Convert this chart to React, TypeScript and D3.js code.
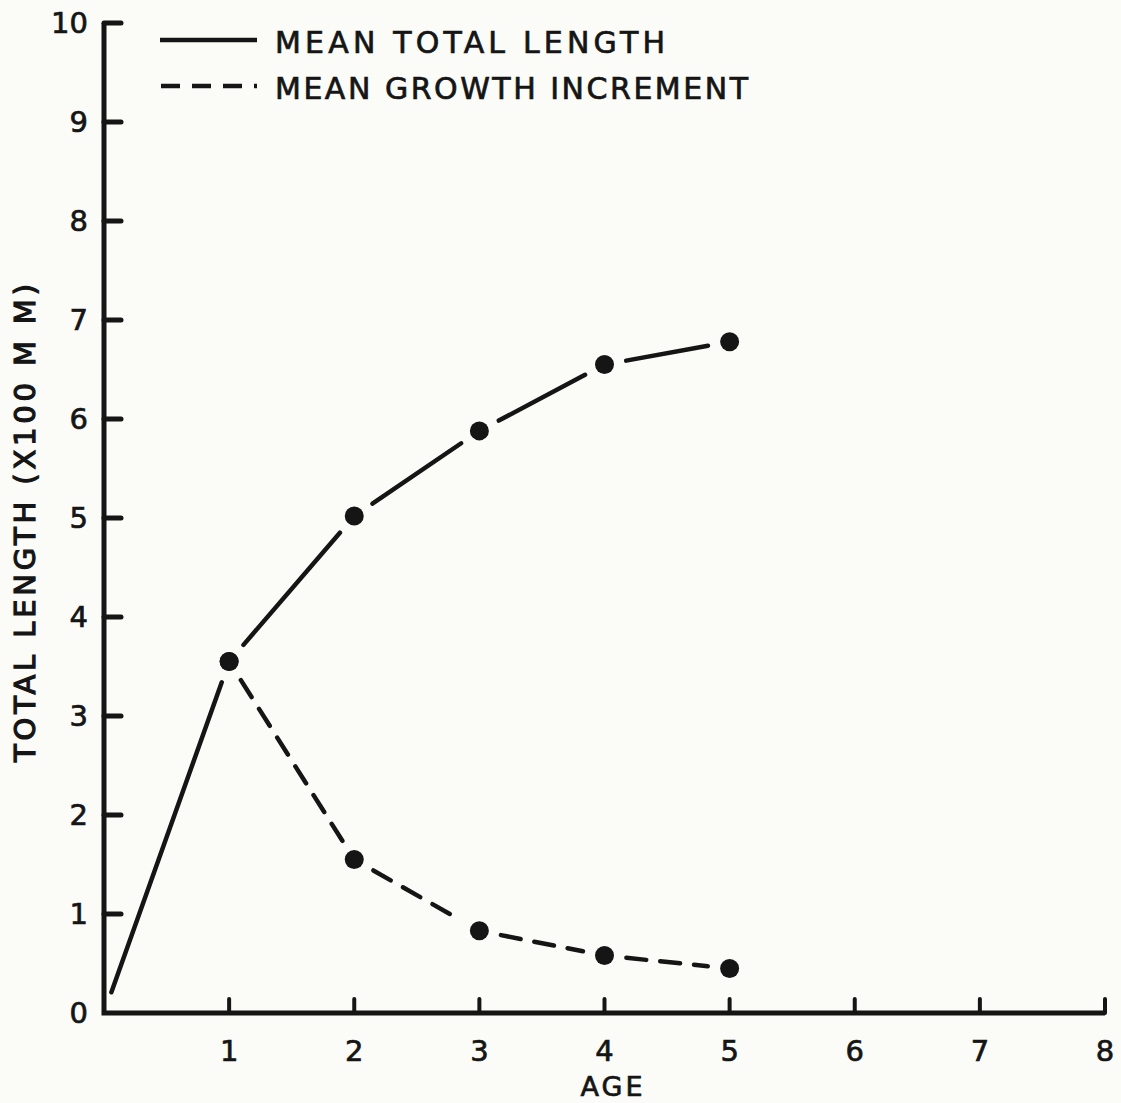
import * as d3 from "d3";
import { useRef, useEffect } from "react";

const ages = [0, 1, 2, 3, 4, 5];
const meanTotalLength = [0, 3.55, 5.02, 5.88, 6.55, 6.78];
const incrementAges = [1, 2, 3, 4, 5];
const meanGrowthIncrement = [3.55, 1.55, 0.83, 0.58, 0.45];
const xTicks = [1, 2, 3, 4, 5, 6, 7, 8];
const yTicks = [0, 1, 2, 3, 4, 5, 6, 7, 8, 9, 10];

const INK = "#151515";
const FONT = "'DejaVu Sans', sans-serif";

function App() {
  const svgRef = useRef<SVGSVGElement>(null);

  useEffect(() => {
    const WIDTH = 1121;
    const HEIGHT = 1103;
    const x = d3.scaleLinear().domain([0, 8]).range([104, 1105]);
    const y = d3.scaleLinear().domain([0, 10]).range([1013, 23]);

    const svg = d3.select(svgRef.current)
      .attr("width", WIDTH)
      .attr("height", HEIGHT);
    svg.selectAll("*").remove();

    svg.append("rect")
      .attr("width", WIDTH)
      .attr("height", HEIGHT)
      .attr("fill", "#fbfbf8");

    // hand-lettered look: thin outline thickens the glyphs
    const ink = (sel: any) => sel
      .attr("font-family", FONT)
      .attr("fill", INK)
      .attr("stroke", INK)
      .attr("stroke-width", 0.7);

    // axes
    svg.append("path")
      .attr("d", `M${x(0)},${y(10)} V${y(0)} H${x(8)}`)
      .attr("fill", "none")
      .attr("stroke", INK)
      .attr("stroke-width", 5);

    svg.append("g").selectAll("line")
      .data(yTicks.filter(d => d > 0))
      .join("line")
      .attr("x1", x(0))
      .attr("x2", x(0) + 17)
      .attr("y1", d => y(d))
      .attr("y2", d => y(d))
      .attr("stroke", INK)
      .attr("stroke-width", 5)
      .attr("stroke-linecap", "round");

    svg.append("g").selectAll("line")
      .data(xTicks)
      .join("line")
      .attr("x1", d => x(d))
      .attr("x2", d => x(d))
      .attr("y1", y(0))
      .attr("y2", y(0) - 14)
      .attr("stroke", INK)
      .attr("stroke-width", 4)
      .attr("stroke-linecap", "round");

    svg.append("g").selectAll("text")
      .data(yTicks)
      .join("text")
      .attr("x", 88)
      .attr("y", d => y(d) + 10)
      .attr("text-anchor", "end")
      .attr("font-size", 29)
      .call(ink)
      .text(d => d);

    svg.append("g").selectAll("text")
      .data(xTicks)
      .join("text")
      .attr("x", d => x(d))
      .attr("y", 1061)
      .attr("text-anchor", "middle")
      .attr("font-size", 29)
      .call(ink)
      .text(d => d);

    svg.append("text")
      .attr("x", 613)
      .attr("y", 1096)
      .attr("text-anchor", "middle")
      .attr("font-size", 27)
      .attr("letter-spacing", 3)
      .call(ink)
      .text("AGE");

    svg.append("text")
      .attr("transform", "translate(35,523) rotate(-90)")
      .attr("text-anchor", "middle")
      .attr("font-size", 29)
      .attr("textLength", 478)
      .attr("lengthAdjust", "spacing")
      .call(ink)
      .attr("stroke-width", 1.2)
      .text("TOTAL LENGTH (X100 M M)");

    // broken line segments that stop short of the dots
    const segments = (xs: number[], ys: number[], gap: number) => {
      const out: number[][] = [];
      for (let i = 0; i < xs.length - 1; i++) {
        const x0 = x(xs[i]), y0 = y(ys[i]);
        const x1 = x(xs[i + 1]), y1 = y(ys[i + 1]);
        const len = Math.hypot(x1 - x0, y1 - y0);
        const ux = (x1 - x0) / len, uy = (y1 - y0) / len;
        out.push([x0 + ux * gap, y0 + uy * gap, x1 - ux * gap, y1 - uy * gap]);
      }
      return out;
    };

    svg.append("g").selectAll("line")
      .data(segments(ages, meanTotalLength, 22))
      .join("line")
      .attr("x1", d => d[0])
      .attr("y1", d => d[1])
      .attr("x2", d => d[2])
      .attr("y2", d => d[3])
      .attr("stroke", INK)
      .attr("stroke-width", 4.5)
      .attr("stroke-linecap", "round");

    svg.append("g").selectAll("line")
      .data(segments(incrementAges, meanGrowthIncrement, 22))
      .join("line")
      .attr("x1", d => d[0])
      .attr("y1", d => d[1])
      .attr("x2", d => d[2])
      .attr("y2", d => d[3])
      .attr("stroke", INK)
      .attr("stroke-width", 4.5)
      .attr("stroke-dasharray", "20 14")
      .attr("stroke-linecap", "round");

    svg.append("g").selectAll("circle")
      .data(ages.slice(1).map((a, i) => [a, meanTotalLength[i + 1]]))
      .join("circle")
      .attr("cx", d => x(d[0]))
      .attr("cy", d => y(d[1]))
      .attr("r", 9.5)
      .attr("fill", INK);

    svg.append("g").selectAll("circle")
      .data(incrementAges.map((a, i) => [a, meanGrowthIncrement[i]]))
      .join("circle")
      .attr("cx", d => x(d[0]))
      .attr("cy", d => y(d[1]))
      .attr("r", 9.5)
      .attr("fill", INK);

    // legend
    const legend = svg.append("g");
    legend.append("line")
      .attr("x1", 160).attr("x2", 257)
      .attr("y1", 40).attr("y2", 40)
      .attr("stroke", INK).attr("stroke-width", 4.5);
    legend.append("line")
      .attr("x1", 161).attr("x2", 257)
      .attr("y1", 86).attr("y2", 86)
      .attr("stroke", INK).attr("stroke-width", 4.5)
      .attr("stroke-dasharray", "19 12");
    legend.append("text")
      .attr("x", 275).attr("y", 53)
      .attr("font-size", 30)
      .attr("textLength", 390).attr("lengthAdjust", "spacing")
      .call(ink)
      .text("MEAN TOTAL LENGTH");
    legend.append("text")
      .attr("x", 275).attr("y", 99)
      .attr("font-size", 30)
      .attr("textLength", 473).attr("lengthAdjust", "spacing")
      .call(ink)
      .text("MEAN GROWTH INCREMENT");
  }, []);

  return (
    <svg ref={svgRef} style={{ position: "absolute", left: 0, top: 0, display: "block" }} />
  );
}

export default App;
